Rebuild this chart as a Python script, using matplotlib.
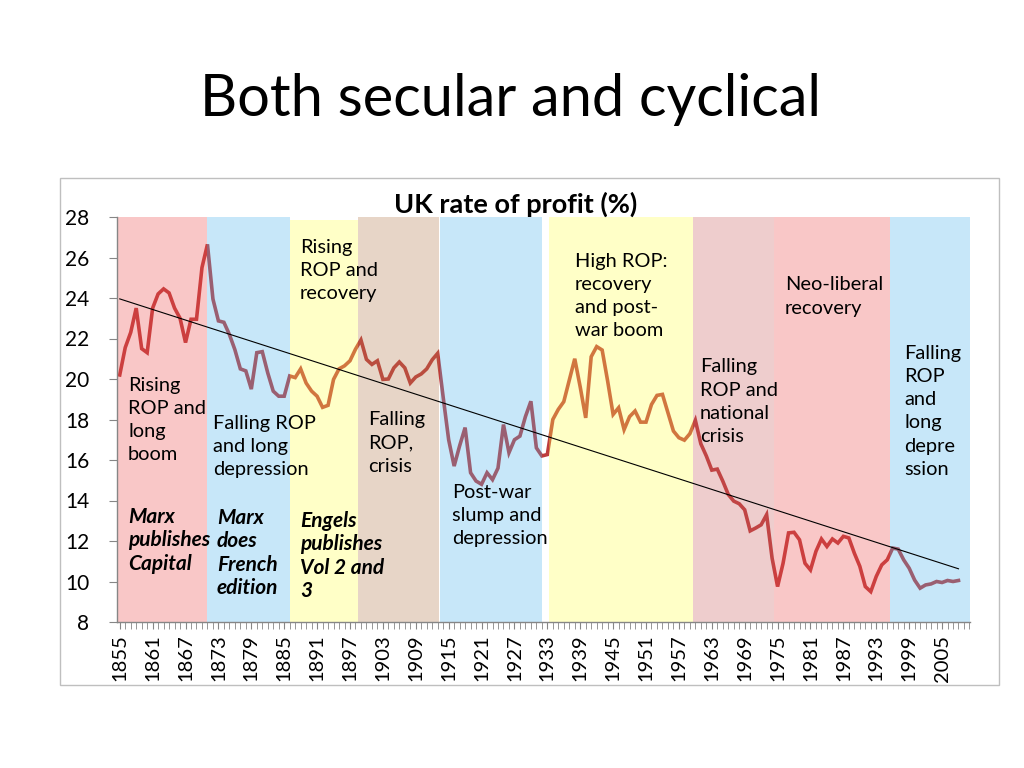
import matplotlib
matplotlib.use("Agg")
import matplotlib.pyplot as plt
from matplotlib.patches import Rectangle
import numpy as np

# ---------------- data ----------------
years = list(range(1855, 2009))
rop = [20.2, 21.55, 22.3, 23.5, 21.5, 21.3, 23.5, 24.2, 24.45, 24.25,
       23.5, 23.0, 21.8, 22.95, 22.95, 25.5, 26.65, 23.95, 22.87, 22.8,
       22.2, 21.45, 20.5, 20.4, 19.5, 21.3, 21.35, 20.3, 19.4, 19.15,
       19.15, 20.15, 20.07, 20.5, 19.8, 19.4, 19.15, 18.6, 18.7, 19.98,
       20.5, 20.65, 20.9, 21.47, 21.93, 20.97, 20.72, 20.9, 19.98, 20.0,
       20.55, 20.84, 20.55, 19.8, 20.1, 20.25, 20.5, 20.95, 21.27, 19.1,
       17.0, 15.7, 16.7, 17.6, 15.37, 14.96, 14.8, 15.37, 15.03, 15.6,
       17.75, 16.36, 17.0, 17.18, 18.14, 18.9, 16.6, 16.2, 16.27, 18.0,
       18.5, 18.88, 19.95, 21.0, 19.6, 18.08, 21.1, 21.6, 21.43, 19.9,
       18.25, 18.58, 17.5, 18.14, 18.42, 17.87, 17.87, 18.74, 19.19, 19.24,
       18.33, 17.43, 17.1, 16.98, 17.3, 17.96, 16.8, 16.2, 15.5, 15.55,
       14.96, 14.3, 13.97, 13.84, 13.54, 12.5, 12.64, 12.8, 13.3, 11.15,
       9.75, 10.9, 12.4, 12.43, 12.06, 10.9, 10.57, 11.49, 12.1, 11.73,
       12.1, 11.9, 12.23, 12.15, 11.4, 10.75, 9.75, 9.5, 10.25, 10.82,
       11.07, 11.65, 11.6, 11.07, 10.66, 10.07, 9.67, 9.83, 9.88, 10.0,
       9.95, 10.05, 10.0, 10.05]

# period bands (start year, end year, colour)
band_start = [1854.5, 1870.9, 1886.1, 1898.5, 1913.4, 1933.3, 1959.6, 1974.4, 1995.5]
band_end   = [1870.9, 1886.0, 1898.5, 1913.2, 1932.1, 1959.6, 1974.4, 1995.5, 2010.1]
band_top   = [28, 28, 27.85, 28, 28, 28, 28, 28, 28]
band_color = ["#EE4848", "#48B2EE", "#FFFF48", "#B27748", "#48B2EE",
              "#FFFF48", "#C85A5A", "#EE4848", "#48B2EE"]

period_labels = ["Rising\nROP and\nlong\nboom",
                 "Falling ROP\nand long\ndepression",
                 "Rising\nROP and\nrecovery",
                 "Falling\nROP,\ncrisis",
                 "Post-war\nslump and\ndepression",
                 "High ROP:\nrecovery\nand post-\nwar boom",
                 "Falling\nROP and\nnational\ncrisis",
                 "Neo-liberal\nrecovery",
                 "Falling\nROP\nand\nlong\ndepre\nssion"]
period_pos = [(128, 385), (213, 423), (300, 247), (368, 420), (452, 492),
              (575, 261), (700, 367), (785, 285), (904, 353)]

event_labels = ["Marx\npublishes\nCapital",
                "Marx\ndoes\nFrench\nedition",
                "Engels\npublishes\nVol 2 and\n3"]
event_pos = [(128, 517), (217, 518), (300, 521)]

tick_years = list(range(1855, 2009, 6))
yticks = list(range(8, 30, 2))

# ---------------- figure ----------------
W, H = 1024, 768
fig = plt.figure(figsize=(W / 100, H / 100), dpi=100)
FONT = "Lato"

def fx(px):
    return px / W

def fy(py):
    return 1 - py / H

# chart frame
fig.patches.append(Rectangle((fx(60), fy(685)), fx(999) - fx(60), fy(178) - fy(685),
                             transform=fig.transFigure, fill=False,
                             edgecolor="#BFBFBF", linewidth=1.0, zorder=0))

ax = fig.add_axes([fx(117), fy(622), fx(970) - fx(117), fy(217) - fy(622)])
ax.set_facecolor("none")

ax.plot(years, rop, color="#BE3C3C", linewidth=2.6, zorder=1, solid_joinstyle="miter")

coef = np.polyfit(years, rop, 1)
trend = np.polyval(coef, [years[0], years[-1]])
ax.plot([years[0], years[-1]], trend, color="black", linewidth=0.8, zorder=3)

for s, e, t, c in zip(band_start, band_end, band_top, band_color):
    ax.fill_between([s, e], 8, t, color=c, alpha=0.3, linewidth=0, zorder=2)

ax.set_xlim(1854.5, 2010.1)
ax.set_ylim(8, 28)
ax.set_yticks(yticks)
ax.set_xticks(tick_years)
ax.set_xticks(years + [2009, 2010], minor=True)
ax.set_xticklabels([str(y) for y in tick_years], rotation=90, fontsize=14.5,
                   family=FONT)
ax.set_yticklabels([str(v) for v in yticks], fontsize=15, family=FONT)
ax.tick_params(axis="y", length=6, color="#868686", pad=14)
ax.tick_params(axis="x", which="both", length=5, color="#868686", pad=4)
for sp in ["top", "right"]:
    ax.spines[sp].set_visible(False)
for sp in ["left", "bottom"]:
    ax.spines[sp].set_color("#868686")
    ax.spines[sp].set_linewidth(1.0)

STEP = 23.3

def place(text, x, y0, **kw):
    for i, line in enumerate(text.split("\n")):
        fig.text(fx(x), fy(y0 + i * STEP), line, ha="left", va="center",
                 zorder=5, **kw)

for txt, (x, y) in zip(period_labels, period_pos):
    place(txt, x, y, fontsize=14.4, family=FONT, color="black")
for txt, (x, y) in zip(event_labels, event_pos):
    place(txt, x, y, fontsize=15, family=FONT, color="black",
          fontweight="bold", fontstyle="italic")

fig.text(fx(516), fy(204), "UK rate of profit (%)", ha="center", va="center",
         fontsize=19.5, fontweight="bold", family=FONT)
fig.text(fx(511), fy(99), "Both secular and cyclical", ha="center", va="center",
         fontsize=41.6, family=FONT)

fig.savefig("out.png", dpi=100)
